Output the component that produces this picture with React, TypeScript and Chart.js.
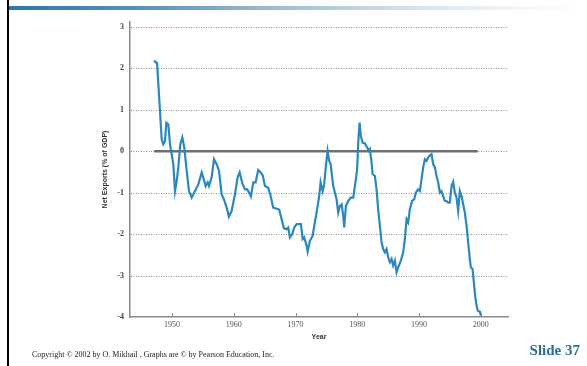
import React, { useEffect, useRef } from 'react';
import { Chart, registerables } from 'chart.js';

Chart.register(...registerables);

// U.S. net exports as a share of GDP, quarterly readings
const years = [
  1947.09, 1947.41, 1947.57, 1948.33, 1948.59, 1948.87, 1949.08, 1949.4, 1949.68, 1949.95,
  1950.21, 1950.49, 1950.76, 1951.02, 1951.34, 1951.67, 1951.99, 1952.38, 1952.75, 1953.19,
  1953.72, 1954.26, 1954.81, 1955.23, 1955.45, 1955.78, 1955.99, 1956.42, 1956.8, 1957.23,
  1957.61, 1958.04, 1958.41, 1958.85, 1959.22, 1959.66, 1960.19, 1960.63, 1960.95, 1961.41,
  1961.81, 1962.18, 1962.51, 1962.78, 1963.16, 1963.54, 1963.96, 1964.35, 1964.68, 1965.05,
  1965.58, 1965.97, 1966.39, 1966.83, 1967.36, 1967.75, 1968.12, 1968.56, 1968.82, 1969.09,
  1969.47, 1969.79, 1970.18, 1970.55, 1970.87, 1971.15, 1971.41, 1971.8, 1971.96, 1972.33,
  1972.77, 1973.03, 1973.41, 1973.83, 1974.06, 1974.39, 1974.64, 1974.92, 1975.19, 1975.45,
  1975.68, 1976.1, 1976.65, 1976.91, 1977.18, 1977.46, 1977.72, 1977.88, 1978.16, 1978.53,
  1978.92, 1979.34, 1979.73, 1979.98, 1980.15, 1980.37, 1980.58, 1980.86, 1981.23, 1981.6,
  1981.88, 1982.04, 1982.31, 1982.48, 1982.85, 1983.12, 1983.38, 1983.66, 1983.93, 1984.19,
  1984.47, 1984.74, 1985.0, 1985.28, 1985.55, 1985.81, 1986.08, 1986.36, 1986.62, 1987.06,
  1987.43, 1987.7, 1987.98, 1988.24, 1988.51, 1988.88, 1989.21, 1989.48, 1989.85, 1990.13,
  1990.4, 1990.66, 1990.94, 1991.21, 1991.47, 1991.75, 1992.02, 1992.28, 1992.56, 1992.83,
  1993.09, 1993.37, 1993.64, 1993.9, 1994.17, 1994.45, 1994.71, 1994.98, 1995.26, 1995.52,
  1995.79, 1996.07, 1996.33, 1996.6, 1996.88, 1997.14, 1997.41, 1997.69, 1997.95, 1998.22,
  1998.38, 1998.66, 1998.87, 1999.08, 1999.31, 1999.51, 1999.84, 2000.0,
];

const netExports = [
  2.19, 2.14, 2.16, 0.29, 0.17, 0.25, 0.69, 0.65, 0.17, -0.07,
  -0.31, -0.96, -0.72, -0.39, 0.17, 0.33, 0.09, -0.47, -0.96, -1.12,
  -0.96, -0.8, -0.51, -0.72, -0.84, -0.75, -0.84, -0.63, -0.19, -0.31,
  -0.47, -1.04, -1.16, -1.36, -1.58, -1.44, -1.04, -0.63, -0.51, -0.78,
  -0.92, -0.92, -1.01, -1.09, -0.75, -0.75, -0.45, -0.51, -0.58, -0.84,
  -0.88, -1.08, -1.36, -1.38, -1.41, -1.64, -1.86, -1.88, -1.84, -2.08,
  -2.0, -1.84, -1.76, -1.76, -1.76, -2.12, -2.08, -2.28, -2.42, -2.16,
  -2.04, -1.8, -1.48, -1.08, -0.75, -0.96, -0.8, -0.35, 0.01, -0.23,
  -0.31, -0.84, -1.16, -1.48, -1.32, -1.28, -1.56, -1.84, -1.32, -1.2,
  -1.12, -1.12, -0.72, -0.43, 0.21, 0.69, 0.37, 0.21, 0.19, 0.09,
  0.01, 0.05, -0.27, -0.55, -0.6, -0.92, -1.4, -1.8, -2.2, -2.36,
  -2.44, -2.36, -2.56, -2.68, -2.6, -2.76, -2.64, -2.92, -2.8, -2.64,
  -2.44, -2.12, -1.64, -1.72, -1.4, -1.2, -1.16, -1.0, -0.92, -0.96,
  -0.67, -0.4, -0.19, -0.23, -0.15, -0.1, -0.07, -0.31, -0.39, -0.6,
  -0.75, -1.0, -0.96, -1.08, -1.2, -1.2, -1.24, -1.24, -0.84, -0.74,
  -1.0, -1.12, -1.44, -0.96, -1.08, -1.28, -1.48, -1.8, -2.2, -2.6,
  -2.8, -2.84, -3.16, -3.49, -3.73, -3.85, -3.87, -3.97,
];

// Balanced-trade reference line at zero
const zeroLineYears = [1947.1, 1999.5];

const yTickValues = [-4, -3, -2, -1, 0, 1, 2, 3];
const xTickValues = [1950, 1960, 1970, 1980, 1990, 2000];

const AXIS_GRAY = '#8a8a8a';

// Dotted horizontal guides and inward decade ticks
const guidesPlugin = {
  id: 'guides',
  beforeDatasetsDraw(chart: any) {
    const { ctx, chartArea, scales } = chart;
    const ys = scales.y;
    const xs = scales.x;
    ctx.save();
    ctx.strokeStyle = '#8e8e8e';
    ctx.lineWidth = 1;
    ctx.setLineDash([1, 1.5]);
    yTickValues.forEach((v) => {
      if (v <= ys.min) return;
      const py = Math.round(ys.getPixelForValue(v)) + 0.5;
      ctx.beginPath();
      ctx.moveTo(chartArea.left + 1, py);
      ctx.lineTo(chartArea.right, py);
      ctx.stroke();
    });
    ctx.setLineDash([]);
    ctx.strokeStyle = AXIS_GRAY;
    xTickValues.forEach((v) => {
      const px = Math.round(xs.getPixelForValue(v)) + 0.5;
      ctx.beginPath();
      ctx.moveTo(px, chartArea.bottom);
      ctx.lineTo(px, chartArea.bottom - 4);
      ctx.stroke();
    });
    ctx.restore();
  },
};

export default function App() {
  const canvasRef = useRef<HTMLCanvasElement>(null);

  useEffect(() => {
    document.body.style.margin = '0';
    const canvas = canvasRef.current;
    if (!canvas) return;
    const chart = new Chart(canvas, {
      type: 'line',
      data: {
        datasets: [
          {
            label: 'Net exports',
            data: years.map((x, i) => ({ x, y: netExports[i] })),
            borderColor: '#2a88bf',
            borderWidth: 2.2,
            pointRadius: 0,
            tension: 0,
            fill: false,
          },
          {
            label: 'Zero',
            data: zeroLineYears.map((x) => ({ x, y: 0 })),
            borderColor: '#6f6f6f',
            borderWidth: 2.5,
            pointRadius: 0,
            fill: false,
          },
        ],
      },
      options: {
        responsive: false,
        animation: false,
        devicePixelRatio: 1,
        layout: { padding: { left: 99, right: 79, top: 22, bottom: 24 } },
        plugins: {
          legend: { display: false },
          tooltip: { enabled: false },
        },
        scales: {
          x: {
            type: 'linear',
            min: 1943.2,
            max: 2004.4,
            afterBuildTicks: (axis: any) => {
              axis.ticks = xTickValues.map((value) => ({ value }));
            },
            afterFit: (axis: any) => {
              axis.height = 25;
            },
            grid: { display: false, drawTicks: false },
            border: { display: true, color: AXIS_GRAY, width: 1.5 },
            ticks: {
              autoSkip: false,
              maxRotation: 0,
              padding: 3,
              color: '#555',
              font: { family: 'Liberation Serif', size: 8 },
              callback: (v: any) => String(v),
            },
            title: {
              display: true,
              text: 'Year',
              color: '#333',
              padding: { top: 0, bottom: 1 },
              font: { family: 'Liberation Sans', size: 7, weight: 'bold' },
            },
          },
          y: {
            type: 'linear',
            min: -4,
            max: 3.12,
            afterBuildTicks: (axis: any) => {
              axis.ticks = yTickValues.map((value) => ({ value }));
            },
            afterFit: (axis: any) => {
              axis.width = 31;
            },
            grid: { display: false, drawTicks: false },
            border: { display: true, color: AXIS_GRAY, width: 1.5 },
            ticks: {
              padding: 6,
              color: '#444',
              font: { family: 'Liberation Serif', size: 8, weight: 'bold' },
              callback: (v: any) => String(v),
            },
            title: {
              display: true,
              text: 'Net Exports (% of GDP)',
              color: '#333',
              padding: { top: 2, bottom: 0 },
              font: { family: 'Liberation Sans', size: 7, weight: 'bold' },
            },
          },
        },
      },
      plugins: [guidesPlugin],
    });
    return () => chart.destroy();
  }, []);

  return (
    <div
      style={{
        position: 'relative',
        width: 587,
        height: 366,
        background: '#ffffff',
        overflow: 'hidden',
      }}
    >
      <div style={{ position: 'absolute', left: 7, top: 0, width: 2, height: 366, background: '#000' }} />
      <div
        style={{
          position: 'absolute',
          left: 9,
          top: 6,
          width: 578,
          height: 4,
          background:
            'linear-gradient(to right, #2b76a6 0%, #5f94b8 25%, #9bbbd0 45%, #d2e0e9 68%, #f2f6f9 88%, #ffffff 100%)',
        }}
      />
      <canvas
        ref={canvasRef}
        width={587}
        height={366}
        style={{ position: 'absolute', left: 0, top: 0, width: 587, height: 366 }}
      />
      <div
        style={{
          position: 'absolute',
          left: 32,
          top: 350,
          fontFamily: 'Liberation Serif',
          fontSize: 8,
          color: '#222',
          whiteSpace: 'nowrap',
        }}
      >
        Copyright © 2002 by O. Mikhail , Graphs are © by Pearson Education, Inc.
      </div>
      <div
        style={{
          position: 'absolute',
          right: 7,
          top: 342,
          fontFamily: 'Liberation Serif',
          fontSize: 15,
          fontWeight: 'bold',
          color: '#2a6b98',
          whiteSpace: 'nowrap',
        }}
      >
        Slide 37
      </div>
    </div>
  );
}
